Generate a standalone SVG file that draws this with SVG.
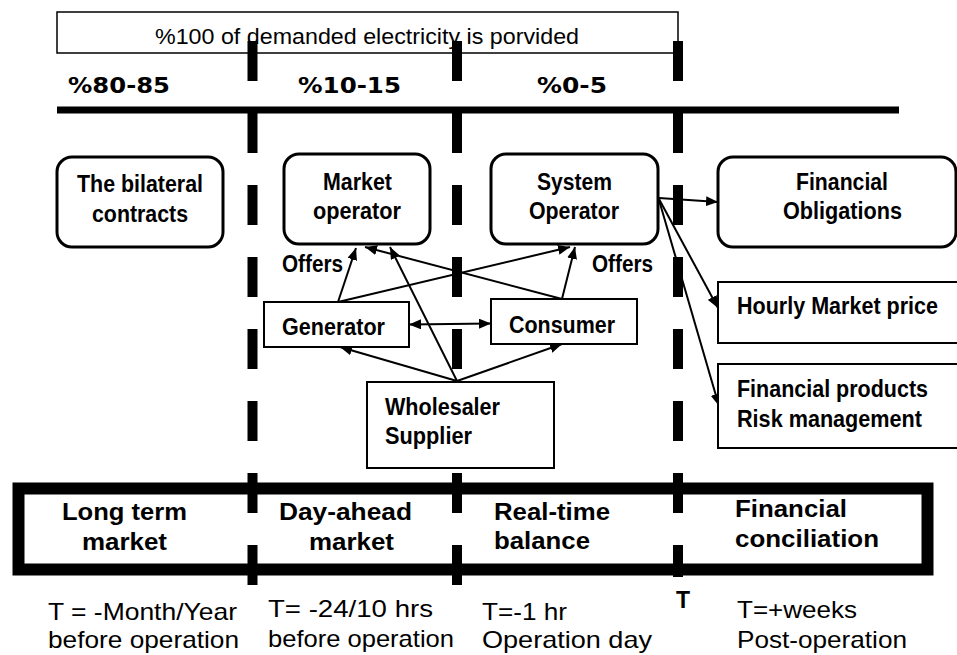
<svg xmlns="http://www.w3.org/2000/svg" width="957" height="655" viewBox="0 0 957 655">
  <defs>
    <style>
      .bg { fill: #ffffff; }
      .rbox { fill: #ffffff; stroke: #000; stroke-width: 3; }
      .box { fill: #ffffff; stroke: #000; stroke-width: 2; }
      .lbl { font-family: "Liberation Sans", Arial, sans-serif; font-weight: bold; font-size: 23px; fill: #000; }
      .big { font-family: "Liberation Sans", Arial, sans-serif; font-weight: bold; font-size: 24px; fill: #000; }
      .reg { font-family: "Liberation Sans", Arial, sans-serif; font-size: 24px; fill: #000; }
      .pct { font-family: "DejaVu Sans", Verdana, sans-serif; font-weight: bold; font-size: 22px; fill: #000; }
      .mid { text-anchor: middle; }
      .dash { stroke: #000; stroke-width: 10; stroke-dasharray: 40 32; fill: none; }
      .conn { stroke: #000; stroke-width: 2; fill: none; marker-end: url(#arrow); }
    </style>
    <marker id="arrow" viewBox="0 0 12 10" markerWidth="12" markerHeight="10" refX="12" refY="5" orient="auto-start-reverse" markerUnits="userSpaceOnUse">
      <path d="M0,0 L12,5 L0,10 z" fill="#000"/>
    </marker>
  </defs>

  <rect class="bg" x="0" y="0" width="957" height="655"/>

  <!-- header: share of demand and the phase bar -->
  <g id="header">
    <rect x="57" y="12" width="621" height="41" fill="none" stroke="#000" stroke-width="1.5"/>
    <text x="367" y="44" font-family="Liberation Sans, Arial, sans-serif" font-size="22.5" text-anchor="middle" textLength="424" lengthAdjust="spacingAndGlyphs">%100 of demanded electricity is porvided</text>
    <text class="pct" x="68" y="93" textLength="102" lengthAdjust="spacingAndGlyphs">%80-85</text>
    <text class="pct" x="298" y="93" textLength="103" lengthAdjust="spacingAndGlyphs">%10-15</text>
    <text class="pct" x="537" y="93" textLength="70" lengthAdjust="spacingAndGlyphs">%0-5</text>
    <line x1="57" y1="110" x2="899" y2="110" stroke="#000" stroke-width="7"/>
  </g>

  <!-- phase separators -->
  <g id="separators">
    <line class="dash" x1="252.5" y1="41" x2="252.5" y2="587"/>
    <line class="dash" x1="457" y1="41" x2="457" y2="587"/>
    <line class="dash" x1="678" y1="41" x2="678" y2="577"/>
  </g>

  <!-- timeline band -->
  <g id="timeline">
    <rect x="18.5" y="488.5" width="909" height="81" fill="none" stroke="#000" stroke-width="12"/>
    <text class="big" x="62" y="520" textLength="125" lengthAdjust="spacingAndGlyphs">Long term</text>
    <text class="big" x="82" y="550" textLength="85" lengthAdjust="spacingAndGlyphs">market</text>
    <text class="big" x="279" y="520" textLength="133" lengthAdjust="spacingAndGlyphs">Day-ahead</text>
    <text class="big" x="309" y="550" textLength="85" lengthAdjust="spacingAndGlyphs">market</text>
    <text class="big" x="494" y="520" textLength="116" lengthAdjust="spacingAndGlyphs">Real-time</text>
    <text class="big" x="494" y="549" textLength="96" lengthAdjust="spacingAndGlyphs">balance</text>
    <text class="big" x="735" y="517" textLength="112" lengthAdjust="spacingAndGlyphs">Financial</text>
    <text class="big" x="735" y="547" textLength="144" lengthAdjust="spacingAndGlyphs">conciliation</text>
  </g>

  <g id="time-notes">
    <text class="reg" x="48" y="620" textLength="189" lengthAdjust="spacingAndGlyphs">T = -Month/Year</text>
    <text class="reg" x="48" y="648" textLength="191" lengthAdjust="spacingAndGlyphs">before operation</text>
    <text class="reg" x="268" y="617" textLength="165" lengthAdjust="spacingAndGlyphs">T= -24/10 hrs</text>
    <text class="reg" x="268" y="647" textLength="186" lengthAdjust="spacingAndGlyphs">before operation</text>
    <text class="reg" x="482" y="620" textLength="85" lengthAdjust="spacingAndGlyphs">T=-1 hr</text>
    <text class="reg" x="482" y="648" textLength="170" lengthAdjust="spacingAndGlyphs">Operation day</text>
    <text class="lbl mid" x="683" y="608" font-size="21">T</text>
    <text class="reg" x="737" y="618" textLength="120" lengthAdjust="spacingAndGlyphs">T=+weeks</text>
    <text class="reg" x="737" y="648" textLength="170" lengthAdjust="spacingAndGlyphs">Post-operation</text>
  </g>

  <!-- connectors -->
  <g id="connectors">
    <line class="conn" x1="338" y1="302" x2="356" y2="248"/>
    <line class="conn" x1="338" y1="302" x2="570" y2="247"/>
    <line class="conn" x1="562" y1="299" x2="575" y2="247"/>
    <line class="conn" x1="562" y1="299" x2="365" y2="247"/>
    <line class="conn" x1="457" y1="381" x2="390" y2="247"/>
    <line class="conn" x1="457" y1="381" x2="340" y2="347"/>
    <line class="conn" x1="457" y1="381" x2="562" y2="344"/>
    <line class="conn" x1="409" y1="324.5" x2="491" y2="323.5" marker-start="url(#arrow)"/>
    <line class="conn" x1="659" y1="198" x2="718" y2="202"/>
    <line class="conn" x1="659" y1="199" x2="718" y2="308"/>
    <line class="conn" x1="659" y1="200" x2="719" y2="406"/>
    <text class="lbl" x="282" y="272" textLength="61" lengthAdjust="spacingAndGlyphs">Offers</text>
    <text class="lbl" x="592" y="272" textLength="61" lengthAdjust="spacingAndGlyphs">Offers</text>
  </g>

  <!-- nodes -->
  <g id="bilateral">
    <rect class="rbox" x="57" y="157" width="166" height="90" rx="15"/>
    <text class="lbl" x="77" y="192" textLength="126" lengthAdjust="spacingAndGlyphs">The bilateral</text>
    <text class="lbl" x="92" y="222" textLength="96" lengthAdjust="spacingAndGlyphs">contracts</text>
  </g>
  <g id="market-operator">
    <rect class="rbox" x="284" y="154" width="146" height="90" rx="15"/>
    <text class="lbl" x="323" y="190" textLength="69" lengthAdjust="spacingAndGlyphs">Market</text>
    <text class="lbl" x="313" y="219" textLength="88" lengthAdjust="spacingAndGlyphs">operator</text>
  </g>
  <g id="system-operator">
    <rect class="rbox" x="491" y="154" width="167" height="90" rx="15"/>
    <text class="lbl" x="537" y="190" textLength="75" lengthAdjust="spacingAndGlyphs">System</text>
    <text class="lbl" x="529" y="219" textLength="90" lengthAdjust="spacingAndGlyphs">Operator</text>
  </g>
  <g id="financial-obligations">
    <rect class="rbox" x="718" y="157" width="238" height="90" rx="15"/>
    <text class="lbl" x="796" y="190" textLength="92" lengthAdjust="spacingAndGlyphs">Financial</text>
    <text class="lbl" x="783" y="219" textLength="119" lengthAdjust="spacingAndGlyphs">Obligations</text>
  </g>
  <g id="hourly-price">
    <rect class="box" x="718" y="282" width="245" height="61"/>
    <text class="lbl" x="737" y="314" textLength="201" lengthAdjust="spacingAndGlyphs">Hourly Market price</text>
  </g>
  <g id="financial-products">
    <rect class="box" x="718" y="364" width="245" height="84"/>
    <text class="lbl" x="737" y="397" textLength="191" lengthAdjust="spacingAndGlyphs">Financial products</text>
    <text class="lbl" x="737" y="427" textLength="185" lengthAdjust="spacingAndGlyphs">Risk management</text>
  </g>
  <g id="generator">
    <rect class="box" x="264" y="302" width="145" height="45"/>
    <text class="lbl" x="282" y="335" textLength="103" lengthAdjust="spacingAndGlyphs">Generator</text>
  </g>
  <g id="consumer">
    <rect class="box" x="491" y="299" width="146" height="45"/>
    <text class="lbl" x="509" y="333" textLength="106" lengthAdjust="spacingAndGlyphs">Consumer</text>
  </g>
  <g id="wholesaler">
    <rect class="box" x="367" y="382" width="187" height="86"/>
    <text class="lbl" x="385" y="415" textLength="115" lengthAdjust="spacingAndGlyphs">Wholesaler</text>
    <text class="lbl" x="385" y="444" textLength="87" lengthAdjust="spacingAndGlyphs">Supplier</text>
  </g>
</svg>
